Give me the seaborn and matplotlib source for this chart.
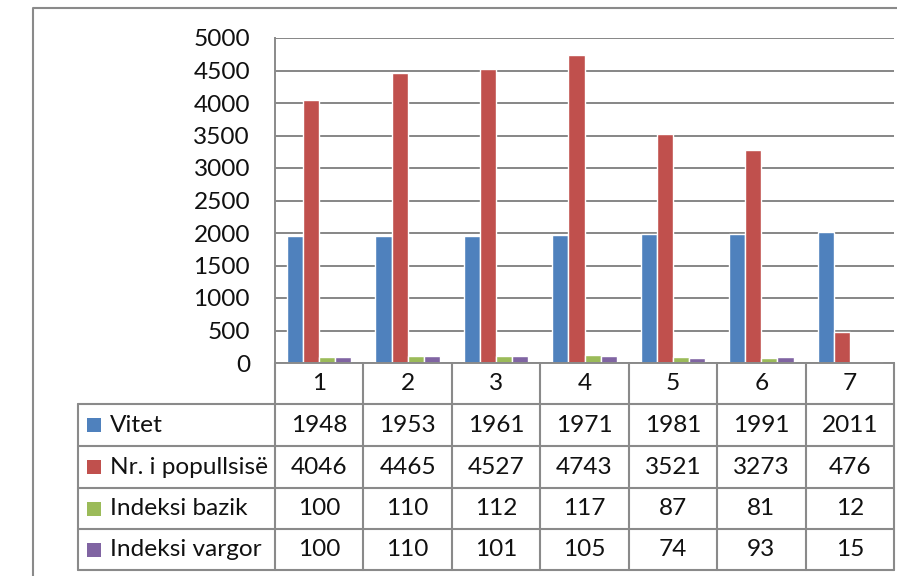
import matplotlib
matplotlib.use('Agg')
import matplotlib.pyplot as plt
import seaborn as sns
import pandas as pd
from matplotlib.transforms import blended_transform_factory
from matplotlib.patches import Rectangle
from matplotlib.lines import Line2D

categories = ['1', '2', '3', '4', '5', '6', '7']
vitet = [1948, 1953, 1961, 1971, 1981, 1991, 2011]
popullsia = [4046, 4465, 4527, 4743, 3521, 3273, 476]
indeksi_bazik = [100, 110, 112, 117, 87, 81, 12]
indeksi_vargor = [100, 110, 101, 105, 74, 93, 15]
series_names = ['Vitet', 'Nr. i popullsisë', 'Indeksi bazik', 'Indeksi vargor']
colors = ['#4F81BD', '#C0504D', '#9BBB59', '#8064A2']

series = [vitet, popullsia, indeksi_bazik, indeksi_vargor]
df = pd.DataFrame({
    'Kategoria': categories * 4,
    'Seria': [n for n in series_names for _ in categories],
    'Vlera': [v for s in series for v in s],
})

sns.set_style('white')
plt.rcParams['font.family'] = ['Lato', 'DejaVu Sans']
line_col = '#8a8a8a'
fs = 17.6

W, H = 897, 576
fig = plt.figure(figsize=(W / 100, H / 100), dpi=100)

# chart frame
frame = fig.add_axes([0, 0, 1, 1])
frame.set_xlim(0, W)
frame.set_ylim(H, 0)
frame.axis('off')
frame.plot([33, 33, W], [H, 8, 8], color=line_col, lw=1.5)

left, right, top, bottom = 275, 894, 38, 363
ax = fig.add_axes([left / W, 1 - bottom / H, (right - left) / W, (bottom - top) / H])
sns.barplot(data=df, x='Kategoria', y='Vlera', hue='Seria', palette=colors,
            width=0.73, saturation=1, legend=False, ax=ax)
ax.set_xlim(-0.5, 6.5)
ax.set_ylim(0, 5000)
ax.set_yticks(range(0, 5001, 500))
ax.yaxis.grid(True, color='#868686', linewidth=1.4)
ax.set_axisbelow(True)
ax.set_xticks([])
ax.set_xlabel('')
ax.set_ylabel('')
for s in ['top', 'right']:
    ax.spines[s].set_visible(False)
ax.spines['left'].set_color(line_col)
ax.spines['bottom'].set_color(line_col)
ax.spines['left'].set_linewidth(1.4)
ax.spines['bottom'].set_linewidth(1.4)
ax.tick_params(axis='y', labelsize=fs, labelcolor='#111111', length=0, pad=18)

# data table under the chart
plot_h = bottom - top
col_px = (right - left) / 7
tr = blended_transform_factory(ax.transData, ax.transAxes)
rows_px = [0, 41, 83, 125, 166, 207]
ry = [-p / plot_h for p in rows_px]
xl = -0.5 - (left - 78) / col_px

for i in range(1, 6):
    ax.add_line(Line2D([xl, 6.5], [ry[i], ry[i]], transform=tr, color=line_col, lw=1.5, clip_on=False))
for i in range(8):
    ax.add_line(Line2D([i - 0.5, i - 0.5], [ry[0], ry[5]], transform=tr, color=line_col, lw=1.5, clip_on=False))
ax.add_line(Line2D([xl, xl], [ry[1], ry[5]], transform=tr, color=line_col, lw=1.5, clip_on=False))

for j, c in enumerate(categories):
    ax.text(j, (ry[0] + ry[1]) / 2, c, transform=tr, ha='center', va='center', fontsize=fs, color='#111111')

sq = 14
for r, (name, vals, col) in enumerate(zip(series_names, series, colors)):
    yc = (ry[r + 1] + ry[r + 2]) / 2
    ax.add_patch(Rectangle((xl + 9 / col_px, yc - sq / 2 / plot_h), sq / col_px, sq / plot_h,
                           transform=tr, facecolor=col, edgecolor='none', clip_on=False))
    ax.text(xl + 32 / col_px, yc, name, transform=tr, ha='left', va='center', fontsize=fs, color='#111111')
    for j, v in enumerate(vals):
        ax.text(j, yc, str(v), transform=tr, ha='center', va='center', fontsize=fs, color='#111111')

fig.savefig('out.png', dpi=100)
